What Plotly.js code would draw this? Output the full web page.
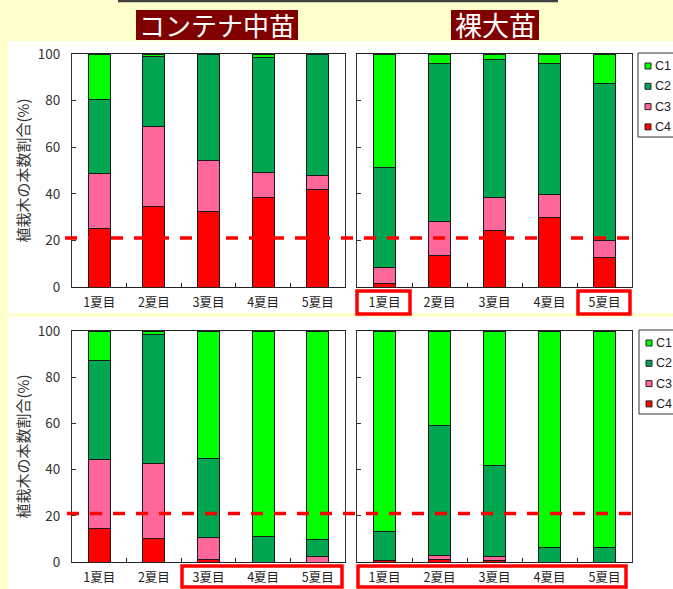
<!DOCTYPE html>
<html>
<head>
<meta charset="utf-8">
<script src="https://cdn.plot.ly/plotly-3.0.1.min.js"></script>
<style>html,body{margin:0;padding:0;background:#FFFFCC;}#chart{width:673px;height:589px;}</style>
</head>
<body>
<div id="chart"></div>
<script>
// ---------- data ----------
const categories = ['1夏目', '2夏目', '3夏目', '4夏目', '5夏目'];
const seriesNames = ['C1', 'C2', 'C3', 'C4'];
const groupTitles = ['コンテナ中苗', '裸大苗'];
const yTitle = '植栽木の本数割合(%)';
const yTicks = [0, 20, 40, 60, 80, 100];
const threshold = 21;

// upper row, container seedlings
const upContC1 = [19.4, 1.0, 0, 1.7, 0];
const upContC2 = [31.8, 30.0, 45.6, 49.2, 52.1];
const upContC3 = [23.7, 34.3, 22.0, 10.5, 6.0];
const upContC4 = [25.1, 34.7, 32.4, 38.6, 41.9];
// upper row, bare-root large seedlings
const upBareC1 = [48.9, 3.9, 2.4, 3.9, 12.6];
const upBareC2 = [42.9, 67.8, 59.4, 56.4, 67.5];
const upBareC3 = [6.8, 14.8, 14.0, 9.9, 7.1];
const upBareC4 = [1.4, 13.5, 24.2, 29.8, 12.8];
// lower row, container seedlings
const loContC1 = [12.7, 1.4, 55.0, 89.0, 90.1];
const loContC2 = [43.1, 55.9, 34.2, 11.0, 7.7];
const loContC3 = [29.9, 32.6, 9.5, 0, 2.2];
const loContC4 = [14.3, 10.1, 1.3, 0, 0];
// lower row, bare-root large seedlings
const loBareC1 = [86.9, 41.1, 58.1, 93.9, 93.9];
const loBareC2 = [12.6, 56.0, 39.5, 6.1, 6.1];
const loBareC3 = [0, 1.6, 1.7, 0, 0];
const loBareC4 = [0.5, 1.3, 0.7, 0, 0];

// ---------- style ----------
const W = 673, H = 589;
const colors = {C1: '#00FF00', C2: '#00A650', C3: '#FF6699', C4: '#FF0000'};
const cjk = '"Noto Sans CJK JP", "Noto Sans", sans-serif';
const latin = '"Liberation Sans", Arial, sans-serif';
const px = v => v / W;
const py = v => 1 - v / H;

const panels = [
  {xa: 'x',  ya: 'y',  data: {C1: upContC1, C2: upContC2, C3: upContC3, C4: upContC4}},
  {xa: 'x2', ya: 'y2', data: {C1: upBareC1, C2: upBareC2, C3: upBareC3, C4: upBareC4}},
  {xa: 'x3', ya: 'y3', data: {C1: loContC1, C2: loContC2, C3: loContC3, C4: loContC4}},
  {xa: 'x4', ya: 'y4', data: {C1: loBareC1, C2: loBareC2, C3: loBareC3, C4: loBareC4}}
];

const traces = [];
panels.forEach(p => {
  ['C4', 'C3', 'C2', 'C1'].forEach(s => {
    traces.push({
      type: 'bar', x: categories, y: p.data[s], name: s,
      xaxis: p.xa, yaxis: p.ya, showlegend: false,
      marker: {color: colors[s], line: {color: '#1a1a1a', width: 1}},
      hoverinfo: 'x+y+name'
    });
  });
});

const colL = [72, 345], colR = [357, 632];
const rowT = [54, 287], rowB = [331, 562];

function xAxis(dom) {
  return {
    type: 'category', domain: [px(dom[0]), px(dom[1])], range: [-0.5, 4.5],
    showgrid: false, zeroline: false, showline: true, linecolor: '#222', linewidth: 1.2, mirror: true,
    ticks: 'inside', ticklen: 4, tickcolor: '#222', tickson: 'boundaries',
    tickfont: {family: cjk, size: 12.5, color: '#222'}, ticklabelstandoff: 4, fixedrange: true
  };
}
function yAxis(dom, labels, anchor) {
  return {
    domain: [py(dom[1]), py(dom[0])], range: [0, 100], tickvals: yTicks, anchor: anchor,
    showgrid: false, zeroline: false, showline: true, linecolor: '#333', linewidth: 1, mirror: true,
    ticks: 'inside', ticklen: 4, tickcolor: '#333', showticklabels: labels,
    tickfont: {family: cjk, size: 13.5, color: '#333'}, ticklabelstandoff: 8, fixedrange: true
  };
}

const shapes = [];
const annotations = [];

// white panels
shapes.push({type: 'rect', xref: 'paper', yref: 'paper', x0: px(8), x1: px(680), y0: py(313), y1: py(41),
  fillcolor: '#FFFFFF', line: {width: 0}, layer: 'below'});
shapes.push({type: 'rect', xref: 'paper', yref: 'paper', x0: px(8), x1: px(680), y0: py(600), y1: py(317),
  fillcolor: '#FFFFFF', line: {width: 0}, layer: 'below'});

// top rule
shapes.push({type: 'line', xref: 'paper', yref: 'paper', x0: px(118), x1: px(558), y0: py(1), y1: py(1),
  line: {color: '#404040', width: 2.5}});

// group title boxes
const titleBoxes = [[136, 298, 10, 40, 26], [451, 539, 10, 40, 27]];
titleBoxes.forEach((b, i) => {
  shapes.push({type: 'rect', xref: 'paper', yref: 'paper', x0: px(b[0]), x1: px(b[1]), y0: py(b[3]), y1: py(b[2]),
    fillcolor: '#800000', line: {width: 0}});
  annotations.push({xref: 'paper', yref: 'paper', x: px((b[0] + b[1]) / 2), y: py((b[2] + b[3]) / 2),
    xanchor: 'center', yanchor: 'middle', showarrow: false, text: groupTitles[i],
    font: {family: cjk, size: b[4], color: '#FFFFFF'}});
});

// y-axis titles
[rowT, rowB].forEach(r => {
  annotations.push({xref: 'paper', yref: 'paper', x: px(22), y: py((r[0] + r[1]) / 2),
    xanchor: 'center', yanchor: 'middle', showarrow: false, textangle: -90, text: yTitle,
    font: {family: cjk, size: 15, color: '#333'}});
});

// threshold dashed lines
shapes.push({type: 'line', xref: 'paper', yref: 'y', x0: px(65), x1: px(638), y0: threshold, y1: threshold,
  line: {color: '#FF0000', width: 3.5, dash: '12px,11px'}, layer: 'above'});
shapes.push({type: 'line', xref: 'paper', yref: 'y3', x0: px(67), x1: px(639), y0: threshold, y1: threshold,
  line: {color: '#FF0000', width: 3.5, dash: '12px,11px'}, layer: 'above'});

// red highlight boxes around tick labels
const hiBoxes = [[357, 410, 291, 314], [578, 630, 291, 314], [182, 342, 566, 587], [358, 626, 566, 587]];
hiBoxes.forEach(b => {
  shapes.push({type: 'rect', xref: 'paper', yref: 'paper', x0: px(b[0]), x1: px(b[1]), y0: py(b[3]), y1: py(b[2]),
    line: {color: '#FF0000', width: 3.5}, fillcolor: 'rgba(0,0,0,0)'});
});

// legends (drawn manually, cropped at the right edge like the original)
function addLegend(left, top) {
  shapes.push({type: 'rect', xref: 'paper', yref: 'paper', x0: px(left), x1: px(700), y0: py(top + 84), y1: py(top),
    fillcolor: '#FFFFFF', line: {color: '#333', width: 1}});
  seriesNames.forEach((s, i) => {
    const cy = top + 13 + i * 20.3;
    shapes.push({type: 'rect', xref: 'paper', yref: 'paper', x0: px(left + 7), x1: px(left + 13),
      y0: py(cy + 3), y1: py(cy - 3), fillcolor: colors[s], line: {color: '#222', width: 1}});
    annotations.push({xref: 'paper', yref: 'paper', x: px(left + 14.5), y: py(cy), xanchor: 'left', yanchor: 'middle',
      showarrow: false, text: s, font: {family: latin, size: 12.5, color: '#222'}});
  });
}
addLegend(638, 53);
addLegend(639, 330);

const layout = {
  width: W, height: H,
  margin: {l: 0, r: 0, t: 0, b: 0, pad: 0, autoexpand: false},
  paper_bgcolor: '#FFFFCC', plot_bgcolor: 'rgba(0,0,0,0)',
  barmode: 'stack', bargap: 0.6, showlegend: false,
  xaxis: xAxis(colL), yaxis: yAxis(rowT, true, 'x'),
  xaxis2: Object.assign(xAxis(colR), {anchor: 'y2'}), yaxis2: yAxis(rowT, false, 'x2'),
  xaxis3: Object.assign(xAxis(colL), {anchor: 'y3'}), yaxis3: yAxis(rowB, true, 'x3'),
  xaxis4: Object.assign(xAxis(colR), {anchor: 'y4'}), yaxis4: yAxis(rowB, false, 'x4'),
  shapes: shapes, annotations: annotations
};
layout.xaxis.anchor = 'y';

Plotly.newPlot('chart', traces, layout, {displayModeBar: false, staticPlot: true});
</script>
</body>
</html>
